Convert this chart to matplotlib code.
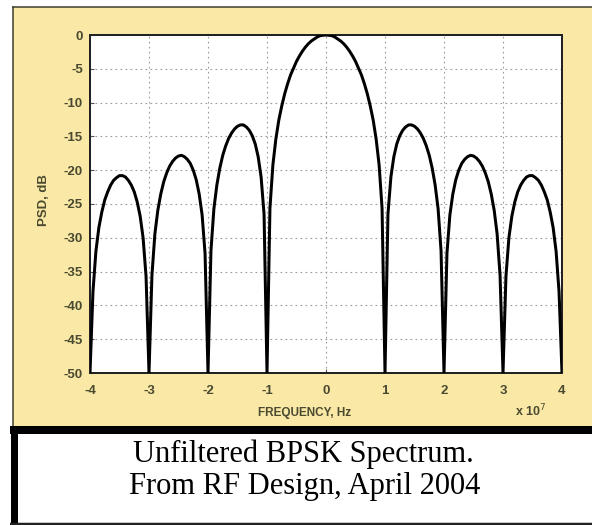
import matplotlib
matplotlib.use("Agg")
import matplotlib.pyplot as plt
from matplotlib.patches import Rectangle

# ---------------- data (frequency in units of 1e7 Hz, PSD in dB) ----------------
freq = [-4.0, -3.95, -3.9, -3.85, -3.8, -3.75, -3.7, -3.65, -3.6, -3.55,
        -3.5, -3.45, -3.4, -3.35, -3.3, -3.25, -3.2, -3.15, -3.1, -3.05,
        -3.0, -2.95, -2.9, -2.85, -2.8, -2.75, -2.7, -2.65, -2.6, -2.55,
        -2.5, -2.45, -2.4, -2.35, -2.3, -2.25, -2.2, -2.15, -2.1, -2.05,
        -2.0, -1.95, -1.9, -1.85, -1.8, -1.75, -1.7, -1.65, -1.6, -1.55,
        -1.5, -1.45, -1.4, -1.35, -1.3, -1.25, -1.2, -1.15, -1.1, -1.05,
        -1.0, -0.95, -0.9, -0.85, -0.8, -0.75, -0.7, -0.65, -0.6, -0.55,
        -0.5, -0.45, -0.4, -0.35, -0.3, -0.25, -0.2, -0.15, -0.1, -0.05,
        0.0, 0.05, 0.1, 0.15, 0.2, 0.25, 0.3, 0.35, 0.4, 0.45,
        0.5, 0.55, 0.6, 0.65, 0.7, 0.75, 0.8, 0.85, 0.9, 0.95,
        1.0, 1.05, 1.1, 1.15, 1.2, 1.25, 1.3, 1.35, 1.4, 1.45,
        1.5, 1.55, 1.6, 1.65, 1.7, 1.75, 1.8, 1.85, 1.9, 1.95,
        2.0, 2.05, 2.1, 2.15, 2.2, 2.25, 2.3, 2.35, 2.4, 2.45,
        2.5, 2.55, 2.6, 2.65, 2.7, 2.75, 2.8, 2.85, 2.9, 2.95,
        3.0, 3.05, 3.1, 3.15, 3.2, 3.25, 3.3, 3.35, 3.4, 3.45,
        3.5, 3.55, 3.6, 3.65, 3.7, 3.75, 3.8, 3.85, 3.9, 3.95,
        4.0]

psd_db = [-50.0, -38.0, -32.0, -28.5, -26.2, -24.4, -23.2, -22.2, -21.5, -21.1,
          -20.8, -20.8, -21.0, -21.5, -22.2, -23.2, -24.7, -26.8, -30.0, -35.7,
          -50.0, -35.5, -29.4, -25.9, -23.5, -21.7, -20.4, -19.4, -18.7, -18.2,
          -17.9, -17.8, -18.0, -18.4, -19.0, -20.0, -21.4, -23.5, -26.6, -32.3,
          -50.0, -31.9, -25.7, -22.2, -19.7, -17.8, -16.4, -15.3, -14.5, -13.9,
          -13.5, -13.3, -13.3, -13.6, -14.1, -14.9, -16.1, -18.0, -21.0, -26.5,
          -50.0, -25.6, -19.2, -15.4, -12.6, -10.5, -8.7, -7.2, -5.9, -4.9,
          -3.9, -3.1, -2.4, -1.8, -1.3, -0.9, -0.6, -0.3, -0.1, -0.04,
          0.0, -0.04, -0.1, -0.3, -0.6, -0.9, -1.3, -1.8, -2.4, -3.1,
          -3.9, -4.9, -5.9, -7.2, -8.7, -10.5, -12.6, -15.4, -19.2, -25.6,
          -50.0, -26.5, -21.0, -18.0, -16.1, -14.9, -14.1, -13.6, -13.3, -13.3,
          -13.5, -13.9, -14.5, -15.3, -16.4, -17.8, -19.7, -22.2, -25.7, -31.9,
          -50.0, -32.3, -26.6, -23.5, -21.4, -20.0, -19.0, -18.4, -18.0, -17.8,
          -17.9, -18.2, -18.7, -19.4, -20.4, -21.7, -23.5, -25.9, -29.4, -35.5,
          -50.0, -35.7, -30.0, -26.8, -24.7, -23.2, -22.2, -21.5, -21.0, -20.8,
          -20.8, -21.1, -21.5, -22.2, -23.2, -24.4, -26.2, -28.5, -32.0, -38.0,
          -50.0]

x_ticks = [-4, -3, -2, -1, 0, 1, 2, 3, 4]
x_tick_labels = ["-4", "-3", "-2", "-1", "0", "1", "2", "3", "4"]
y_ticks = [0, -5, -10, -15, -20, -25, -30, -35, -40, -45, -50]
y_tick_labels = ["0", "-5", "-10", "-15", "-20", "-25", "-30", "-35", "-40", "-45", "-50"]

caption_lines = ["Unfiltered BPSK Spectrum.", "From RF Design, April 2004"]

# ---------------- figure ----------------
W, H = 592, 525
fig = plt.figure(figsize=(W / 100, H / 100), dpi=100, facecolor="white")

pt = 0.72  # points per pixel at 100 dpi
yellow = "#FAE8A6"
txtcol = "#4a4a30"

# background decoration axes in pixel coordinates
bg = fig.add_axes([0, 0, 1, 1], zorder=0)
bg.set_xlim(0, W)
bg.set_ylim(H, 0)
bg.axis("off")
bg.add_patch(Rectangle((13, 7), W - 13, 421, facecolor=yellow, edgecolor="none"))
bg.plot([13, 13], [428, 7], color="#3a3a30", lw=1.5 * pt)
bg.plot([13, W], [7, 7], color="#3a3a30", lw=1.5 * pt)
bg.plot([10, W], [430, 430], color="black", lw=8 * pt, solid_capstyle="butt")
bg.plot([13.5, 13.5], [426, H], color="black", lw=7 * pt, solid_capstyle="butt")
bg.plot([10, W], [523.5, 523.5], color="#222222", lw=2.5 * pt, solid_capstyle="butt")

bg.text(303, 462, caption_lines[0], ha="center", va="baseline",
        fontsize=22, family="Liberation Serif", color="black")
bg.text(305, 494, caption_lines[1], ha="center", va="baseline",
        fontsize=22, family="Liberation Serif", color="black")

bg.text(44, 200, "PSD, dB", rotation=90, ha="center", va="center",
        fontsize=9.5, fontweight="bold", family="Liberation Sans", color=txtcol)
bg.text(305, 413, "FREQUENCY, Hz", ha="center", va="center",
        fontsize=8.5, fontweight="bold", family="Liberation Sans", color=txtcol)
bg.text(531, 411, r"x 10$^{7}$", ha="center", va="center",
        fontsize=9, fontweight="bold", family="Liberation Sans", color=txtcol)

# main axes
ax = fig.add_axes([90 / W, 1 - 373 / H, (562 - 90) / W, (373 - 35) / H], zorder=2)
ax.set_facecolor("white")
ax.plot(freq, psd_db, color="black", lw=3 * pt, solid_joinstyle="round", zorder=3)
ax.set_xlim(-4, 4)
ax.set_ylim(-50, 0)
ax.set_xticks(x_ticks)
ax.set_xticklabels(x_tick_labels)
ax.set_yticks(y_ticks)
ax.set_yticklabels(y_tick_labels)
ax.grid(True, color="#9a9a9a", linestyle=(0, (1.5, 3)), lw=0.8)
ax.tick_params(direction="in", length=3, width=0.8, colors="#555555",
               labelcolor=txtcol, labelsize=9.5)
ax.tick_params(axis="x", pad=9)
ax.tick_params(axis="y", pad=5)
for lab in ax.get_xticklabels() + ax.get_yticklabels():
    lab.set_fontweight("bold")
    lab.set_family("Liberation Sans")
for s in ax.spines.values():
    s.set_color("#222222")
    s.set_linewidth(2 * pt)

fig.savefig("out.png", dpi=100, facecolor="white")
